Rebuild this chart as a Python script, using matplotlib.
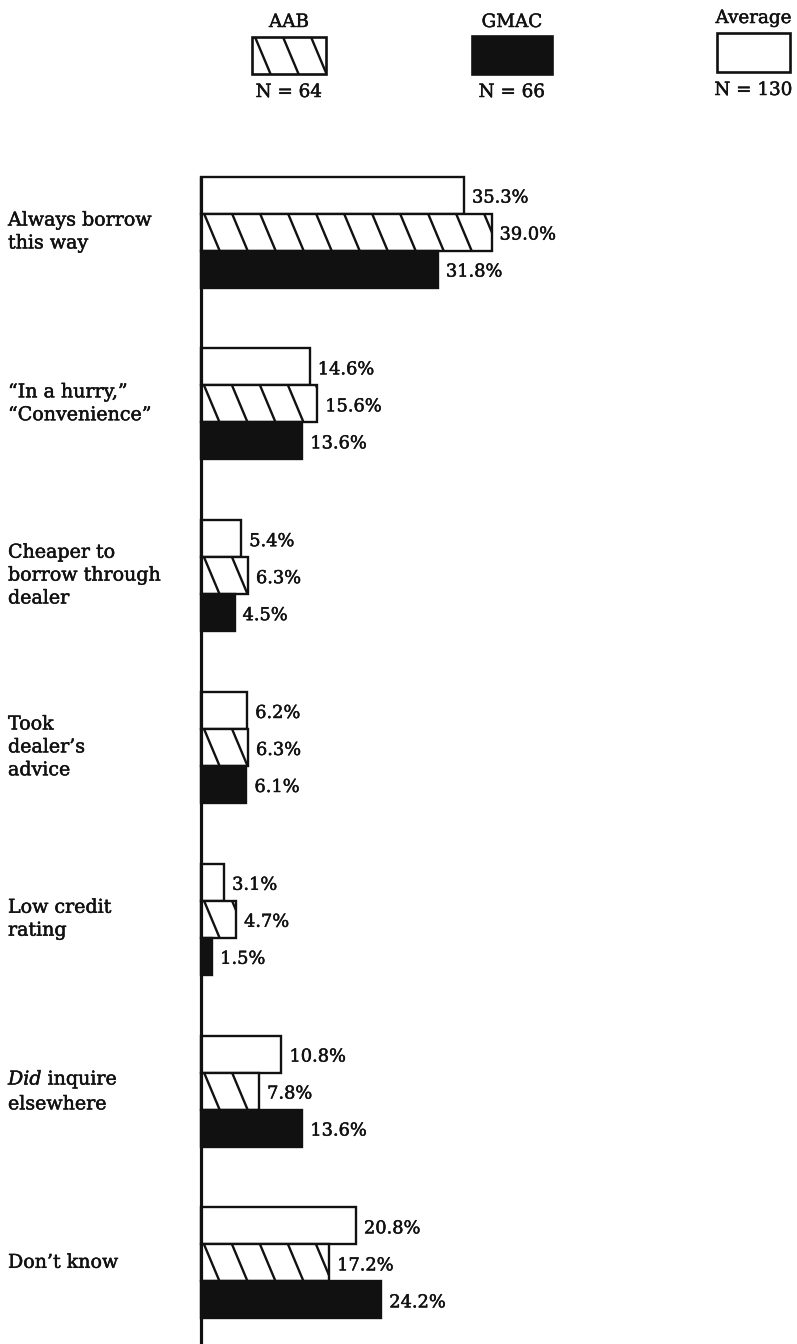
import matplotlib
matplotlib.use("Agg")
import matplotlib.pyplot as plt
import matplotlib.patheffects as pe
from matplotlib.patches import Rectangle
from matplotlib.lines import Line2D

# Reasons given for borrowing through the dealer, share of respondents (%)
categories = [
    "Always borrow\nthis way",
    "\u201cIn a hurry,\u201d\n\u201cConvenience\u201d",
    "Cheaper to\nborrow through\ndealer",
    "Took\ndealer\u2019s\nadvice",
    "Low credit\nrating",
    "$\\mathit{Did}$ inquire\nelsewhere",
    "Don\u2019t know",
]
average = [35.3, 14.6, 5.4, 6.2, 3.1, 10.8, 20.8]
aab = [39.0, 15.6, 6.3, 6.3, 4.7, 7.8, 17.2]
gmac = [31.8, 13.6, 4.5, 6.1, 1.5, 13.6, 24.2]

series_names = ["AAB", "GMAC", "Average"]
series_n = [64, 66, 130]

plt.rcParams["font.family"] = "DejaVu Serif"
plt.rcParams["mathtext.fontset"] = "custom"
plt.rcParams["mathtext.rm"] = "DejaVu Serif"
plt.rcParams["mathtext.it"] = "DejaVu Serif:italic"

W, H, DPI = 797, 1344, 100
fig = plt.figure(figsize=(W / DPI, H / DPI), dpi=DPI)
fig.patch.set_facecolor("white")

# main axes: one percent = PX_PER_PCT pixels, zero line at X0 px
PX_PER_PCT = 7.45
X0 = 201
FIRST = 232       # pixel row of the first group's centre
STEP = 171.8      # pixels between groups
BAR_PX = 37

ax = fig.add_axes([0, 0, 1, 1])
ax.set_xlim(-X0 / PX_PER_PCT, (W - X0) / PX_PER_PCT)
ax.set_ylim((H - FIRST) / STEP, -FIRST / STEP)
ax.axis("off")

bh = BAR_PX / STEP
px = 1.0 / PX_PER_PCT
groups = list(range(len(categories)))

INK = "#111111"
heavy = [pe.withStroke(linewidth=0.35, foreground=INK)]


def add_hatch(axes, rect, spacing=28, slant=0.42, phase=3, lw=1.7):
    """Steep back-slash hatching clipped to a rectangle."""
    x, y, w, h = rect.get_x(), rect.get_y(), rect.get_width(), rect.get_height()
    (xa, ya), (xb, yb) = axes.transData.transform([(x, y), (x + w, y + h)])
    left, right = min(xa, xb), max(xa, xb)
    bottom, top = min(ya, yb), max(ya, yb)
    hh = top - bottom
    inv = axes.transData.inverted()
    xs = left + phase - spacing
    while xs < right:
        p = inv.transform([(xs, top), (xs + slant * hh, bottom)])
        ln = Line2D(p[:, 0], p[:, 1], color=INK, lw=lw, zorder=rect.get_zorder() + 0.1)
        axes.add_line(ln)
        ln.set_clip_path(rect)
        xs += spacing


y_avg = [g - bh for g in groups]
y_aab = [g for g in groups]
y_gm = [g + bh for g in groups]

b_avg = ax.barh(y_avg, average, height=bh, color="white", edgecolor=INK, linewidth=1.7, zorder=2)
b_aab = ax.barh(y_aab, aab, height=bh, color="white", edgecolor=INK, linewidth=1.7, zorder=2)
b_gm = ax.barh(y_gm, gmac, height=bh, color=INK, edgecolor=INK, linewidth=1.7, zorder=2)

for r in b_aab:
    add_hatch(ax, r)

# vertical base line
ax.plot([0, 0], [y_avg[0] - bh / 2, ax.get_ylim()[0]], color=INK, lw=2.3, zorder=4,
        solid_capstyle="butt")

val_fs = 12.8
for ys, vals in ((y_avg, average), (y_aab, aab), (y_gm, gmac)):
    for yy, v in zip(ys, vals):
        ax.text(v + 8 * px, yy + 0.015, f"{v:.1f}%", ha="left", va="center",
                fontsize=val_fs, color=INK, path_effects=heavy)

for g, lab in zip(groups, categories):
    ax.text(-X0 / PX_PER_PCT + 8 * px, g, lab, ha="left", va="center",
            fontsize=13.7, color=INK, linespacing=1.35, path_effects=heavy)

# legend drawn in pixel coordinates
lax = fig.add_axes([0, 0, 1, 1])
lax.set_xlim(0, W)
lax.set_ylim(H, 0)
lax.axis("off")

legend_boxes = {"AAB": (252, 37, 74, 37), "GMAC": (472, 36, 80, 38), "Average": (717, 33, 73, 39)}
legend_label_y = {"AAB": 22, "GMAC": 22, "Average": 18}
legend_n_y = {"AAB": 92, "GMAC": 92, "Average": 90}

for name, n in zip(series_names, series_n):
    bx, by, bw, bhh = legend_boxes[name]
    face = INK if name == "GMAC" else "white"
    rect = Rectangle((bx, by), bw, bhh, facecolor=face, edgecolor=INK, linewidth=1.9, zorder=2)
    lax.add_patch(rect)
    if name == "AAB":
        add_hatch(lax, rect)
    cx = bx + bw / 2
    lax.text(cx, legend_label_y[name], name, ha="center", va="center", fontsize=13.2,
             color=INK, path_effects=heavy)
    lax.text(cx, legend_n_y[name], f"N = {n}", ha="center", va="center", fontsize=13.2,
             color=INK, path_effects=heavy)

fig.savefig("out.png", dpi=DPI, facecolor="white")
